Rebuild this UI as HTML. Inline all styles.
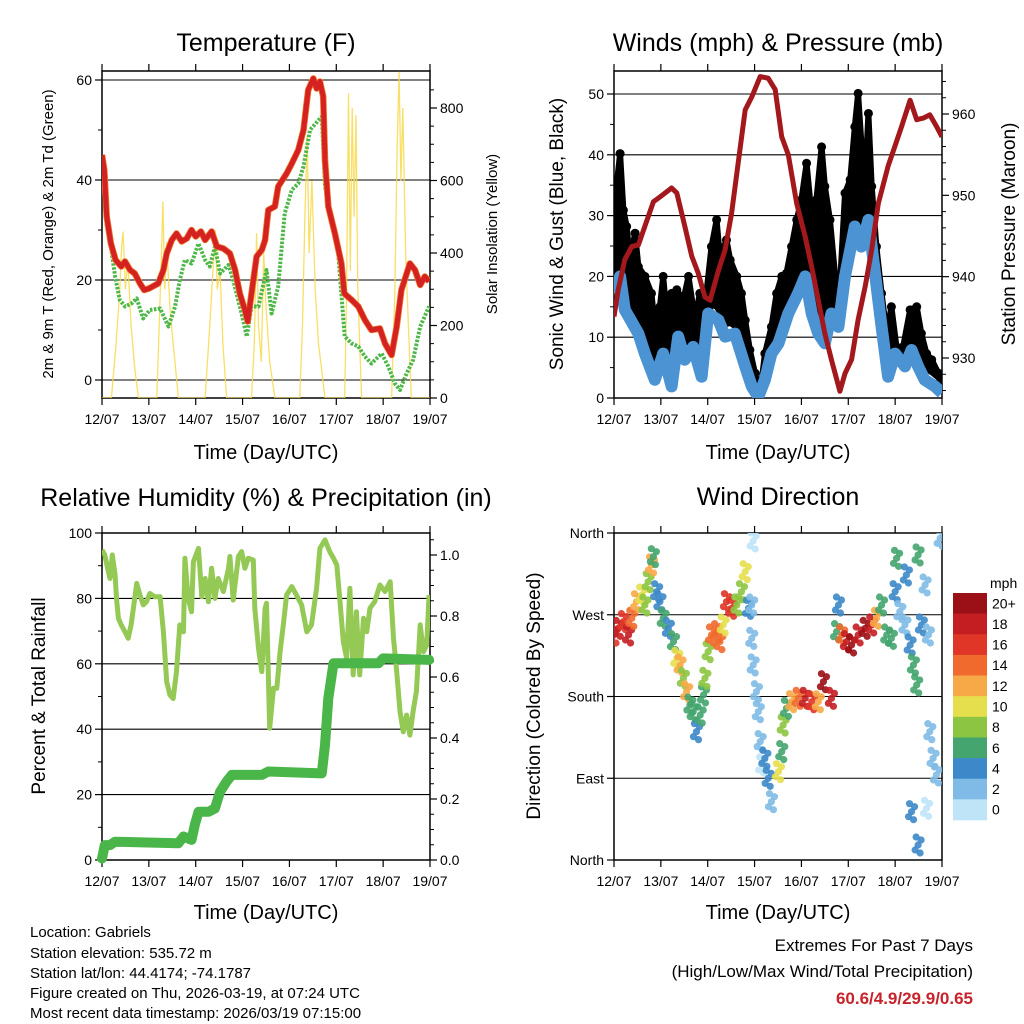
<!DOCTYPE html>
<html><head><meta charset="utf-8"><style>
html,body{margin:0;padding:0;background:#fff;}
svg{display:block;font-family:"Liberation Sans",Arial,sans-serif;}
</style></head><body>
<svg id="s" width="1024" height="1024" viewBox="0 0 1024 1024" xmlns="http://www.w3.org/2000/svg">
<defs>
<clipPath id="c1"><rect x="102" y="71" width="328" height="327"/></clipPath>
<clipPath id="c2"><rect x="614" y="71" width="328" height="327"/></clipPath>
<clipPath id="c3"><rect x="102" y="533" width="328" height="327"/></clipPath>
<clipPath id="c4"><rect x="614" y="533" width="328" height="327"/></clipPath>
</defs>
<g font-size="25" text-anchor="middle" fill="#000">
<text x="266" y="51">Temperature (F)</text>
<text x="778" y="51">Winds (mph) &amp; Pressure (mb)</text>
<text x="266" y="506">Relative Humidity (%) &amp; Precipitation (in)</text>
<text x="778" y="505">Wind Direction</text>
</g>
<g font-size="20" text-anchor="middle">
<text x="266" y="459">Time (Day/UTC)</text>
<text x="778" y="459">Time (Day/UTC)</text>
<text x="266" y="919">Time (Day/UTC)</text>
<text x="778" y="919">Time (Day/UTC)</text>
</g>
<text transform="translate(53,234) rotate(-90)" font-size="15" text-anchor="middle">2m &amp; 9m T (Red, Orange) &amp; 2m Td (Green)</text>
<text transform="translate(497,234) rotate(-90)" font-size="15" text-anchor="middle">Solar Insolation (Yellow)</text>
<text transform="translate(563,234) rotate(-90)" font-size="19" text-anchor="middle">Sonic Wind &amp; Gust (Blue, Black)</text>
<text transform="translate(1015,234) rotate(-90)" font-size="19" text-anchor="middle">Station Pressure (Maroon)</text>
<text transform="translate(45,696) rotate(-90)" font-size="19" text-anchor="middle">Percent &amp; Total Rainfall</text>
<text transform="translate(540,696) rotate(-90)" font-size="19" text-anchor="middle">Direction (Colored By Speed)</text>
<g font-size="15">
<text x="30" y="937">Location: Gabriels</text>
<text x="30" y="958">Station elevation: 535.72 m</text>
<text x="30" y="978">Station lat/lon: 44.4174; -74.1787</text>
<text x="30" y="998">Figure created on Thu, 2026-03-19, at 07:24 UTC</text>
<text x="30" y="1018">Most recent data timestamp: 2026/03/19 07:15:00</text>
</g>
<g font-size="17" text-anchor="end">
<text x="973" y="951">Extremes For Past 7 Days</text>
<text x="973" y="977">(High/Low/Max Wind/Total Precipitation)</text>
<text x="973" y="1004" fill="#c8232a" font-weight="bold">60.6/4.9/29.9/0.65</text>
</g>
<g id="dyn"></g>
</svg>
<script>
// ---------- data ----------
const dayLabels = ["12/07","13/07","14/07","15/07","16/07","17/07","18/07","19/07"];
const tempDay = [0,0.05,0.1,0.19,0.29,0.41,0.49,0.6,0.7,0.81,0.9,1.0,1.2,1.31,1.38,1.49,1.59,1.7,1.81,1.91,2.0,2.11,2.2,2.34,2.45,2.59,2.73,2.84,2.94,3.05,3.11,3.19,3.3,3.41,3.48,3.55,3.69,3.76,3.94,4.05,4.19,4.3,4.4,4.51,4.58,4.65,4.72,4.76,4.83,4.97,5.11,5.17,5.33,5.47,5.61,5.75,5.93,6.04,6.18,6.29,6.39,6.57,6.68,6.79,6.89,6.98];
const tempF = [45,42,32.7,27.3,24,22.7,23.7,22,21.3,19.3,18,18.3,19.3,22,25.3,28,29.3,27.7,28.3,30,28.7,29.7,28,29.7,26.7,26.3,25.3,22,17.3,14,11.7,17.3,24.7,26,28,34,34.7,38.7,41.3,43.3,46,50,58,60.3,58.3,59.7,56.7,44,34.7,29.3,23.3,17.3,16,14.7,12,10,10.3,7.3,5,10.7,18,23.3,22,19,20.7,19.7];
const dewDay = [0,0.1,0.19,0.28,0.38,0.49,0.63,0.74,0.88,1.02,1.24,1.42,1.56,1.66,1.77,1.91,2.06,2.2,2.3,2.41,2.52,2.7,2.8,2.98,3.09,3.19,3.34,3.51,3.62,3.76,3.9,4.05,4.19,4.3,4.44,4.69,4.76,4.9,5.04,5.18,5.33,5.47,5.61,5.75,5.97,6.11,6.25,6.36,6.5,6.64,6.79,6.98];
const dewF = [44,30.7,26.7,20.7,16,14.7,15.3,16.3,12.3,14,14.3,10.7,14.7,20,24,23.3,27.3,24,22.7,26.7,21.3,23,20,13.3,8.7,14.7,14.7,22,13.3,18.7,33.3,38,39.3,42.7,50,52.7,38.7,32,25.3,8.7,7.3,6.7,4.7,3.3,5.3,2.7,-0.7,-2,1.3,4,10.7,14.7];
const solarDay = [0,0.2,0.3,0.38,0.42,0.45,0.5,0.55,0.62,0.7,0.78,1.17,1.22,1.27,1.3,1.34,1.38,1.45,1.52,1.63,2.2,2.3,2.38,2.42,2.46,2.52,2.58,2.66,3.19,3.25,3.3,3.34,3.4,3.45,3.5,3.58,3.69,4.22,4.28,4.33,4.38,4.42,4.48,4.55,4.62,4.76,5.18,5.22,5.26,5.3,5.34,5.38,5.42,5.46,5.54,6.18,6.25,6.3,6.34,6.38,6.42,6.48,6.54,6.6,7];
const solarW = [0,0,150,300,420,459,300,380,200,80,0,0,200,400,542,300,430,250,150,0,0,200,380,463,300,350,150,0,0,150,455,200,100,400,250,100,0,0,200,500,721,400,600,300,150,0,0,300,841,350,800,500,780,300,0,0,300,700,900,600,800,400,200,0,0];
const presDay = [0,0.09,0.23,0.38,0.52,0.66,0.84,0.98,1.23,1.34,1.51,1.66,1.8,1.94,2.05,2.23,2.37,2.51,2.65,2.8,2.94,3.12,3.29,3.44,3.58,3.72,3.9,4.08,4.22,4.36,4.5,4.64,4.82,4.93,5.07,5.21,5.36,5.5,5.64,5.85,6.0,6.14,6.32,6.46,6.6,6.74,6.88,7.0];
const presMb = [935.1,938.4,942.1,943.7,943.9,946.2,949.2,949.8,950.9,950.3,946.2,942.5,940.4,937.5,937.1,940.8,943.3,947.8,954,960.5,962.1,964.6,964.4,963,957.2,955,949,944.9,941.2,937.1,933,929.8,925.9,928.1,929.8,934.7,938.8,943.3,949,953.6,956.1,958.5,961.7,959.3,959.5,959.9,958.5,957.2];
const windDay = [0,0.13,0.23,0.52,0.66,0.87,1.05,1.23,1.37,1.51,1.69,1.87,2.01,2.23,2.37,2.58,2.8,2.94,3.08,3.22,3.36,3.51,3.72,3.93,4.08,4.22,4.36,4.5,4.64,4.79,4.93,5.14,5.28,5.43,5.57,5.71,5.85,6.0,6.21,6.35,6.49,6.63,6.85,7.0];
const windMph = [17.2,20,14.5,10.6,7.3,3,7.3,1.9,10.1,6.3,8.4,3.5,13.9,12.8,10.1,10.6,5.2,1.9,0.2,3,7.3,9,13.9,17.2,20,13.9,10.6,9,13.9,11.7,20,28.2,24.9,29.3,20.5,11.7,3.5,7.3,5.2,7.9,5.2,3,1.9,0.8];
const gustDay = [0,0.06,0.13,0.2,0.27,0.34,0.45,0.52,0.66,0.8,0.87,0.98,1.05,1.12,1.23,1.34,1.48,1.59,1.73,1.83,1.94,2.08,2.19,2.26,2.4,2.48,2.62,2.72,2.8,2.9,3.01,3.12,3.22,3.36,3.47,3.58,3.68,3.79,3.9,4.0,4.11,4.22,4.32,4.43,4.5,4.61,4.72,4.82,4.93,5.04,5.14,5.21,5.28,5.36,5.43,5.5,5.6,5.71,5.82,5.92,6.03,6.17,6.32,6.46,6.56,6.67,6.78,6.92,7.0];
const gustMph = [33.7,35.3,40.2,30.9,28.2,22.7,27.1,21.6,20,17.2,11.7,15,20,13.9,17.2,17.8,16.1,20,12.8,17.2,15,24.9,29.3,23.2,26,22.7,20,17.2,12.8,7.9,4.1,0.8,7.3,11.7,17.2,20,20.5,24.9,29.3,32.6,38.6,29.8,32.6,41.3,34.8,29.3,20,18.3,33.7,35.9,44.6,50.1,41.9,35.9,46.8,34.8,24.9,17.2,10.6,15,8.4,8.4,14.5,15,10.6,7.3,6.3,4.1,2.4];
const rhDay = [0,0.06,0.12,0.17,0.22,0.28,0.31,0.35,0.41,0.49,0.56,0.62,0.67,0.74,0.81,0.88,0.95,1.02,1.13,1.24,1.31,1.38,1.45,1.52,1.59,1.66,1.74,1.77,1.84,1.91,1.95,2.06,2.13,2.2,2.27,2.34,2.41,2.48,2.59,2.7,2.73,2.8,2.91,2.98,3.05,3.12,3.23,3.26,3.34,3.41,3.48,3.51,3.58,3.66,3.73,3.8,3.87,3.94,4.05,4.15,4.26,4.37,4.47,4.58,4.65,4.76,4.86,4.94,5.01,5.08,5.15,5.22,5.29,5.36,5.43,5.5,5.58,5.65,5.72,5.82,5.93,6.04,6.15,6.22,6.29,6.36,6.43,6.5,6.57,6.64,6.71,6.79,6.86,6.93,6.98];
const rhPct = [94.8,93.3,89.2,86.1,93.3,87.2,80,73.9,71.9,69.8,67.8,71.9,77,84.6,81,78,79,81.5,80.5,80.5,69.8,54.5,50.5,49.4,57.6,71.9,69.8,92.3,80,75.9,91.2,95.3,80.5,86.1,79,89.2,80,86.1,82.1,89.2,92.8,79.5,92.8,94.3,89.2,92.3,91.7,77,64.7,57.6,77,78.5,40.3,52.5,52.5,63.7,71.9,81,83.6,81,78,69.8,71.9,83.1,95.3,97.9,94.3,92.3,90.2,79,66.8,61.7,83.1,56.6,75.9,56.6,73.9,69.8,77,79,84.1,82.1,85.1,67.8,57.6,45.4,39.2,44.3,38.2,45.4,51.5,71.9,63.7,65.7,81];
const precipDay = [0,0.06,0.17,0.28,1.63,1.74,1.91,1.98,2.06,2.27,2.41,2.52,2.66,2.77,3.41,3.55,4.69,4.76,4.83,4.94,5.9,6.0,6.98];
const precipIn = [0.005,0.049,0.049,0.06,0.055,0.077,0.066,0.115,0.158,0.158,0.169,0.224,0.257,0.279,0.279,0.29,0.284,0.377,0.53,0.645,0.645,0.661,0.656];
const dirDay = [0,0.09,0.2,0.31,0.38,0.48,0.59,0.66,0.73,0.8,0.84,0.91,0.98,1.05,1.16,1.27,1.34,1.41,1.48,1.55,1.62,1.69,1.76,1.84,1.91,1.94,2.01,2.08,2.19,2.26,2.33,2.4,2.51,2.62,2.72,2.8,2.87,2.94,2.97,2.94,2.97,3.04,3.08,3.12,3.15,3.22,3.29,3.36,3.51,3.58,3.61,3.68,3.79,3.93,4.08,4.22,4.36,4.47,4.64,4.75,4.79,4.86,4.96,5.07,5.21,5.36,5.5,5.6,5.71,5.82,5.92,6.0,6.03,6.1,6.21,6.24,6.32,6.39,6.46,6.49,6.56,6.64,6.71,6.74,6.81,6.88,6.96,6.67,6.49,6.35];
const dirDeg = [247.7,255,262.4,247.7,266,284.4,291.7,280.7,306.4,324.8,333.9,295.4,284.4,266,255,240.4,222,214.7,200,185.3,170.6,163.3,141.3,159.6,181.7,200,229.4,247.7,251.4,240.4,258.7,284.4,277.1,280.7,295.4,317.4,277.1,280.7,351.2,244,214.7,185.3,163.3,130.3,104.6,111.9,89.9,64.2,97.2,119.3,148.6,167,174.3,178,178,174.3,174.3,196.3,178,251.4,280.7,247.7,240.4,236.7,247.7,255,258.7,266,280.7,247.7,244,295.4,332.1,273.4,258.7,313.8,236.7,214.7,192.7,335.8,258.7,302.8,247.7,141.3,111.9,93.6,354.1,56.9,16.5,53.2];
const dirSpeed = [17,18,16,18,14,12,10,9,8,12,7,4,5,6,5,7,10,12,9,12,6,7,4,6,7,9,8,14,15,15,10,16,17,9,8,10,4,3,1,3,3,2,2,2,1,4,4,3,10,7,8,7,12,15,19,17,12,20,18,7,4,14,19,20,19,20,18,13,7,6,6,4,6,3,3,4,4,6,7,6,5,3,2,2,2,2,2,1,4,4];
const speedBins = ["0","2","4","6","8","10","12","14","16","18","20+"];
const speedColors = ["#bfe4f8","#7fbbe6","#3d88c8","#44a56e","#8cc541","#e6df4d","#f8a947","#ef6a2c","#df3628","#c41e22","#9b1016"];

// ---------- helpers ----------
const NS="http://www.w3.org/2000/svg";
const root=document.getElementById('dyn');
function el(tag,attrs,parent){const e=document.createElementNS(NS,tag);for(const k in attrs)e.setAttribute(k,attrs[k]);(parent||root).appendChild(e);return e;}
function lin(d0,d1,r0,r1){return v=>r0+(v-d0)*(r1-r0)/(d1-d0);}
function pathOf(xs,ys,fx,fy){return xs.map((d,i)=>(i?'L':'M')+fx(d).toFixed(1)+','+fy(ys[i]).toFixed(1)).join('');}
function interp(xs,ys,x){for(let i=1;i<xs.length;i++){if(x<=xs[i]){const t=(x-xs[i-1])/(xs[i]-xs[i-1]);return ys[i-1]+t*(ys[i]-ys[i-1]);}}return ys[ys.length-1];}

function frame(x0,y0,name){
  const g=el('g',{});
  
  
  el('rect',{x:x0,y:y0,width:328,height:327,fill:'none',stroke:'#000','stroke-width':1.5},g);
  const fx=lin(0,7,x0,x0+328);
  for(let i=0;i<dayLabels.length;i++){
    const x=fx(i);
    el('line',{x1:x,x2:x,y1:y0-7,y2:y0,stroke:'#000','stroke-width':1.2},g);
    el('line',{x1:x,x2:x,y1:y0+327,y2:y0+334,stroke:'#000','stroke-width':1.2},g);
    const t=el('text',{x:x,y:y0+353,'font-size':14,'text-anchor':'middle'},g);
    t.textContent=dayLabels[i];
    
    
  }
  return g;
}
function yAxis(g,side,x,fy,vals,labels,minorVals,grid,x0){
  for(let i=0;i<vals.length;i++){
    const y=fy(vals[i]);
    if(grid) el('line',{x1:x0,x2:x0+328,y1:y,y2:y,stroke:'#000','stroke-width':1.1},g);
    el('line',{x1:x,x2:x+(side<0?-7:7),y1:y,y2:y,stroke:'#000','stroke-width':1.2},g);
    const t=el('text',{x:x+(side<0?-10:10),y:y+5,'font-size':14,'text-anchor':side<0?'end':'start'},g);
    t.textContent=labels[i];
    
    
  }
  for(const v of minorVals){const y=fy(v);el('line',{x1:x,x2:x+(side<0?-4:4),y1:y,y2:y,stroke:'#000','stroke-width':1},g);}
}
function range(a,b,s){const r=[];for(let v=a;v<=b+1e-9;v+=s)r.push(+v.toFixed(4));return r;}

// ---------- panel 1: temperature ----------
{
  const g=frame(102,71,'temperature-panel');
  const fx=lin(0,7,102,430), fy=lin(0,60,380,80), fs=lin(0,800,398,108);
  yAxis(g,-1,102,fy,[0,20,40,60],["0","20","40","60"],range(0,60,10).filter(v=>v%20),true,102);
  yAxis(g,1,430,fs,[0,200,400,600,800],["0","200","400","600","800"],range(50,850,50).filter(v=>v%200),false,102);
  const c=el('g',{'clip-path':'url(#c1)'});
  const sol=el('path',{d:pathOf(solarDay,solarW,fx,fs),fill:'none',stroke:'#f7d94a','stroke-width':1.3,opacity:0.85},c);
  
  
  const dew=el('path',{d:pathOf(dewDay,dewF,fx,fy),fill:'none',stroke:'#4db847','stroke-width':4,'stroke-dasharray':'2.5 1.5','stroke-linejoin':'round'},c);
  
  
  const or=el('path',{d:pathOf(tempDay,tempF,fx,fy),fill:'none',stroke:'#f07a2a','stroke-width':6.5,'stroke-linejoin':'round'},c);
  
  
  const red=el('path',{d:pathOf(tempDay,tempF,fx,fy),fill:'none',stroke:'#d42222','stroke-width':5,'stroke-linejoin':'round'},c);
  
  
}
// ---------- panel 2: winds ----------
{
  const g=frame(614,71,'winds-panel');
  const fx=lin(0,7,614,942), fy=lin(0,50,398,94), fp=lin(930,960,358,114);
  yAxis(g,-1,614,fy,[0,10,20,30,40,50],["0","10","20","30","40","50"],range(5,50,10),true,614);
  yAxis(g,1,942,fp,[930,940,950,960],["930","940","950","960"],range(926,964,2).filter(v=>v%10),false,614);
  const c=el('g',{'clip-path':'url(#c2)'});
  // gust cloud: area between wind and gust
  let up=gustDay.map((d,i)=>fx(d).toFixed(1)+','+fy(gustMph[i]).toFixed(1));
  let lo=gustDay.slice().reverse().map(d=>fx(d).toFixed(1)+','+fy(Math.min(interp(windDay,windMph,d)+2,interp(gustDay,gustMph,d))).toFixed(1));
  const cloud=el('polygon',{points:up.concat(lo).join(' '),fill:'#000',stroke:'#000','stroke-width':6,'stroke-linejoin':'round'},c);
  
  
  for(let i=0;i<gustDay.length;i++){
    const d=el('circle',{cx:fx(gustDay[i]),cy:fy(gustMph[i]),r:4.5,fill:'#000'},c);
    
    
  }
  const wb=el('path',{d:pathOf(windDay,windMph,fx,fy),fill:'none',stroke:'#4b93d2','stroke-width':12,'stroke-linejoin':'round'},c);
  
  
  const pr=el('path',{d:pathOf(presDay,presMb,fx,fp),fill:'none',stroke:'#a3181c','stroke-width':5,'stroke-linejoin':'round'},c);
  
  
}
// ---------- panel 3: humidity ----------
{
  const g=frame(102,533,'humidity-panel');
  const fx=lin(0,7,102,430), fy=lin(0,100,860,533), fr=lin(0,1,860,555);
  yAxis(g,-1,102,fy,[0,20,40,60,80,100],["0","20","40","60","80","100"],range(10,90,20),true,102);
  yAxis(g,1,430,fr,[0,0.2,0.4,0.6,0.8,1.0],["0.0","0.2","0.4","0.6","0.8","1.0"],range(0.05,1.05,0.05).filter(v=>Math.round(v*100)%20),false,102);
  const c=el('g',{'clip-path':'url(#c3)'});
  const rh=el('path',{d:pathOf(rhDay,rhPct,fx,fy),fill:'none',stroke:'#93c954','stroke-width':5,'stroke-linejoin':'round'},c);
  
  
  const pc=el('path',{d:pathOf(precipDay,precipIn,fx,fr),fill:'none',stroke:'#4ab548','stroke-width':10,'stroke-linejoin':'round','stroke-linecap':'round'},root);
  
  
}
// ---------- panel 4: wind direction ----------
{
  const g=frame(614,533,'wind-direction-panel');
  const fx=lin(0,7,614,942), fy=lin(0,360,860,533);
  yAxis(g,-1,614,fy,[0,90,180,270,360],["North","East","South","West","North"],[],true,614);
  const c=el('g',{'clip-path':'url(#c4)'});
  const offs=[[0,0],[-3,5],[3,-5],[-2,-8],[2,8]];
  for(let i=0;i<dirDay.length;i++){
    const bin=Math.min(10,Math.floor(dirSpeed[i]/2));
    for(const o of offs){
      const d=el('circle',{cx:fx(dirDay[i])+o[0],cy:fy(dirDeg[i])+o[1],r:3.6,fill:speedColors[bin],opacity:0.9},c);
      
      
    }
  }
  const lg=el('g',{});
  
  
  const t0=el('text',{x:990,y:588,'font-size':14},lg);
  t0.textContent='mph';
  const bh=227/speedBins.length;
  for(let i=0;i<speedBins.length;i++){
    const j=speedBins.length-1-i;
    const y=593+i*bh;
    const r=el('rect',{x:953,y:y,width:34,height:bh+0.3,fill:speedColors[j]},lg);
    
    
    const t=el('text',{x:992,y:y+bh/2+5,'font-size':14},lg);
    t.textContent=speedBins[j];
    
    
  }
}
</script>
</body></html>
